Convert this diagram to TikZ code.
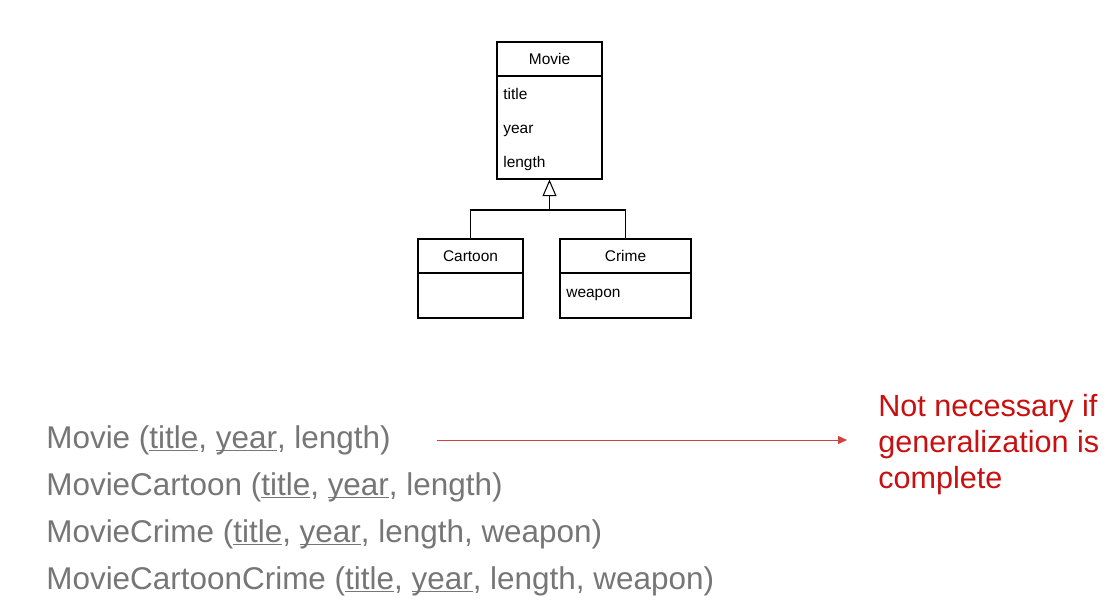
\documentclass[tikz,border=0pt]{standalone}
\usepackage{fontspec}
\setmainfont{Liberation Sans}
\usetikzlibrary{arrows.meta}

\definecolor{relgray}{RGB}{118,118,118}
\definecolor{notered}{RGB}{200,16,16}

% key attribute: underline on the baseline
\newcommand{\keyattr}[1]{\setbox0\hbox{#1}\rlap{\rule[-0.11em]{\wd0}{0.05em}}\box0}

\begin{document}
\begin{tikzpicture}[x=0.02cm, y=-0.02cm,
            head/.style={draw, line width=0.6pt, inner sep=0pt, minimum height=0.68cm, font=\fontsize{8.8}{10}\selectfont},
            body/.style={draw, line width=0.6pt, inner sep=0pt},
            attr/.style={anchor=base west, inner sep=0pt, font=\fontsize{8.8}{10}\selectfont},
            gen/.style={{Triangle[open, length=9.5pt, width=8pt]}-, line width=0.6pt},
            tree/.style={line width=0.6pt},
            rel/.style={anchor=base west, inner sep=0pt, text=relgray, font=\fontsize{17.9}{20}\selectfont},
            note/.style={anchor=north west, inner sep=0pt, align=left, text=notered, font=\fontsize{17.4}{20.4}\selectfont},
            noteArrow/.style={-{Triangle[length=5pt, width=4.5pt]}, notered!80, line width=0.5pt}
        ]
            \useasboundingbox (0,0) rectangle (1115,613);

            % --- classes ---
            \node[head, minimum width=2.1cm] (movieHead) at (549.5,59) {Movie};
            \node[body, minimum width=2.1cm, minimum height=2.06cm] (movie) at (549.5,127.5) {};
            \node[attr] (mTitle) at (503,99) {title};
            \node[attr] (mYear) at (503,133) {year};
            \node[attr] (mLength) at (503,167) {length};

            \node[head, minimum width=2.1cm] (cartoonHead) at (470.5,256) {Cartoon};
            \node[body, minimum width=2.1cm, minimum height=0.9cm] (cartoon) at (470.5,295.5) {};

            \node[head, minimum width=2.62cm] (crimeHead) at (625.5,256) {Crime};
            \node[body, minimum width=2.62cm, minimum height=0.9cm] (crime) at (625.5,295.5) {};
            \node[attr] (cWeapon) at (566,297) {weapon};

            % --- generalization ---
            \coordinate (joint) at (549.5,210);
            \draw[gen] (movie.south) -- (joint);
            \draw[tree] (cartoonHead.north) |- (joint) -| (crimeHead.north);

            % --- relations ---
            \node[rel] (relMovie) at (46,448) {Movie (\keyattr{title}, \keyattr{year}, length)};
            \node[rel] (relCartoon) at (46,495) {MovieCartoon (\keyattr{title}, \keyattr{year}, length)};
            \node[rel] (relCrime) at (46,542) {MovieCrime (\keyattr{title}, \keyattr{year}, length, weapon)};
            \node[rel] (relBoth) at (46,589) {MovieCartoonCrime (\keyattr{title}, \keyattr{year}, length, weapon)};

            % --- note ---
            \node[note] (remark) at (878,394) {Not necessary if\\generalization is\\complete};
            \coordinate (arrowStart) at (437,440);
            \coordinate (arrowEnd) at (847,440);
            \draw[noteArrow] (arrowStart) -- (arrowEnd);
        \end{tikzpicture}
\end{document}
